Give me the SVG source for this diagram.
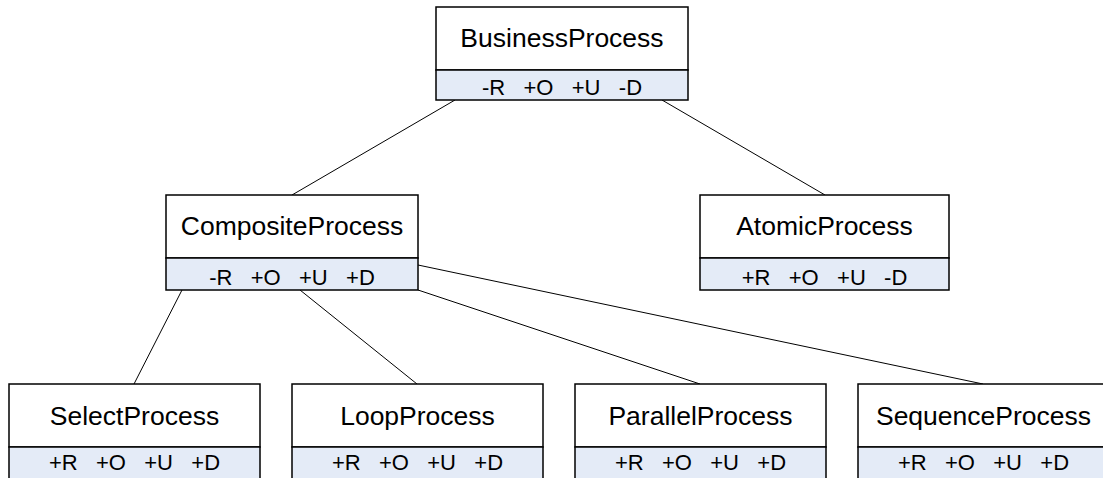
<svg xmlns="http://www.w3.org/2000/svg" width="1103" height="478" viewBox="0 0 1103 478">
  <style>
    .box { fill: #ffffff; stroke: #000000; stroke-width: 1.5; }
    .ops { fill: #e4ebf7; stroke: #000000; stroke-width: 1.5; }
    .title { font-family: "Liberation Sans", Arial, sans-serif; font-size: 26.5px; fill: #000000; text-anchor: middle; }
    .attr { font-family: "Liberation Sans", Arial, sans-serif; font-size: 22px; fill: #000000; text-anchor: middle; white-space: pre; }
    .edge { stroke: #000000; stroke-width: 1; fill: none; }
  </style>

  <!-- inheritance links -->
  <g id="connectors">
    <line class="edge" x1="455" y1="100" x2="292" y2="195"/>
    <line class="edge" x1="662" y1="100" x2="825" y2="195"/>
    <line class="edge" x1="182" y1="290" x2="134" y2="384"/>
    <line class="edge" x1="300" y1="290" x2="417" y2="384"/>
    <line class="edge" x1="418" y1="290" x2="700" y2="384"/>
    <line class="edge" x1="418" y1="265" x2="983" y2="384"/>
  </g>

  <g id="BusinessProcess">
    <rect class="box" x="436" y="7" width="252" height="63"/>
    <rect class="ops" x="436" y="70" width="252" height="30"/>
    <text class="title" x="562" y="47">BusinessProcess</text>
    <text class="attr" x="562" y="95" xml:space="preserve">-R   +O   +U   -D</text>
  </g>

  <g id="CompositeProcess">
    <rect class="box" x="166" y="195" width="252" height="63"/>
    <rect class="ops" x="166" y="258" width="252" height="32"/>
    <text class="title" x="292" y="235">CompositeProcess</text>
    <text class="attr" x="292" y="285" xml:space="preserve">-R   +O   +U   +D</text>
  </g>

  <g id="AtomicProcess">
    <rect class="box" x="700" y="195" width="249" height="63"/>
    <rect class="ops" x="700" y="258" width="249" height="32"/>
    <text class="title" x="824.5" y="235">AtomicProcess</text>
    <text class="attr" x="824.5" y="285" xml:space="preserve">+R   +O   +U   -D</text>
  </g>

  <g id="SelectProcess">
    <rect class="box" x="9" y="384" width="251" height="63"/>
    <rect class="ops" x="9" y="447" width="251" height="34"/>
    <text class="title" x="134.5" y="425">SelectProcess</text>
    <text class="attr" x="134.5" y="470" xml:space="preserve">+R   +O   +U   +D</text>
  </g>

  <g id="LoopProcess">
    <rect class="box" x="292" y="384" width="251" height="63"/>
    <rect class="ops" x="292" y="447" width="251" height="34"/>
    <text class="title" x="417.5" y="425">LoopProcess</text>
    <text class="attr" x="417.5" y="470" xml:space="preserve">+R   +O   +U   +D</text>
  </g>

  <g id="ParallelProcess">
    <rect class="box" x="575" y="384" width="251" height="63"/>
    <rect class="ops" x="575" y="447" width="251" height="34"/>
    <text class="title" x="700.5" y="425">ParallelProcess</text>
    <text class="attr" x="700.5" y="470" xml:space="preserve">+R   +O   +U   +D</text>
  </g>

  <g id="SequenceProcess">
    <rect class="box" x="858" y="384" width="251" height="63"/>
    <rect class="ops" x="858" y="447" width="251" height="34"/>
    <text class="title" x="983.5" y="425">SequenceProcess</text>
    <text class="attr" x="983.5" y="470" xml:space="preserve">+R   +O   +U   +D</text>
  </g>
</svg>
